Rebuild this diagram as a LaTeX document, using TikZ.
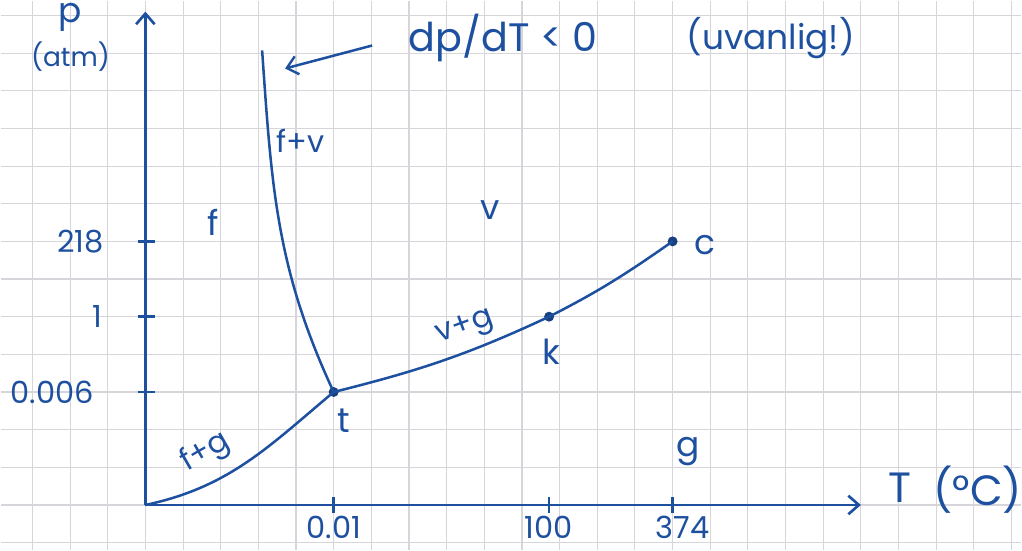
\documentclass[tikz,border=0pt]{standalone}
\usepackage{fontspec}
\setmainfont{Poppins}
\usepackage{tikz}
\usetikzlibrary{arrows.meta, positioning}
\definecolor{blekk}{RGB}{30,80,160}
\definecolor{rute}{RGB}{214,214,218}

\begin{document}
\begin{tikzpicture}[
  font=\fontsize{26}{28}\selectfont,
  axis/.style={draw=blekk, line width=2.2pt,
               -{Straight Barb[length=8pt, width=14pt, line width=2pt]}},
  curve/.style={draw=blekk, line width=1.9pt},
  pil/.style={curve, -{Straight Barb[length=8pt, width=14pt, line width=1.8pt]}},
  lbl/.style={text=blekk, inner sep=0pt},
  mid/.style={lbl, font=\fontsize{23}{25}\selectfont},
  small/.style={lbl, font=\fontsize{20}{22}\selectfont},
  dot/.style={circle, fill=blekk!80!black, inner sep=0pt, minimum size=7.5pt},
  gridline/.style={draw=rute, line width=0.8pt}
]
% rutepapir
\fill[white] (-3.846,-1.194) rectangle (23.263,13.395);
\draw[gridline, step=1] (-3.846,-1.194) grid (23.263,13.395);
\useasboundingbox (-3.846,-1.194) rectangle (23.263,13.395);

% akser
\coordinate (O) at (0,0);
\coordinate (xend) at (19.0,0);
\coordinate (yend) at (0,13.1);
\draw[axis] (O) -- (xend);
\draw[axis] (O) -- (yend);

\node[lbl] (plbl) at (-1.99,12.95) {p};
\node[small, below=0.25cm of plbl] (atm) {(atm)};
\node[lbl, font=\fontsize{32}{34}\selectfont] (Tlbl) at (20.03,0.45) {T};
\node[lbl, font=\fontsize{32}{34}\selectfont] (enhet) at (22.1,0.40) {(°C)};

% merker
\foreach \y/\txt/\lx in {7/218/-1.72, 5/1/-1.27, 3/0.006/-2.47} {
  \draw[curve] (-0.2,\y) -- (0.25,\y);
  \node[mid] at (\lx,\y) {\txt};
}
\foreach \x/\txt/\lx in {5/0.01/5, 10.72/100/10.7, 14/374/14.27} {
  \draw[curve] (\x,-0.22) -- (\x,0.22);
  \node[mid] at (\lx,-0.6) {\txt};
}

% punkter
\node[dot] (t) at (5,3) {};
\node[dot] (k) at (10.72,5) {};
\node[dot] (c) at (14,7) {};
\coordinate (ftop) at (3.10,12.07);

% kurver
\draw[curve] (O) to[out=12, in=-140] (t.center);
\draw[curve] (t.center) to[out=14, in=-155] (k.center);
\draw[curve] (k.center) to[out=27, in=-145] (c.center);
\draw[curve] (ftop) to[out=-86, in=115] (t.center);

% merknad
\node[lbl, font=\fontsize{30}{32}\selectfont] (dpdt) at (9.5,12.39) {dp/dT < 0};
\node[lbl] (uvanlig) at (16.6,12.39) {(uvanlig!)};
\coordinate (pilstart) at (6.02,12.2);
\coordinate (piltupp) at (3.71,11.59);
\draw[pil] (pilstart) -- (piltupp);

% omraader
\node[lbl] (fl) at (1.80,7.51) {f};
\node[lbl] (vl) at (9.15,7.82) {v};
\node[lbl] (gl) at (14.40,1.41) {g};
\node[mid] (fv) at (4.11,9.68) {f+v};
\node[mid, rotate=20] (vg) at (8.5,4.7) {v+g};
\node[mid, rotate=30] (fg) at (1.6,1.4) {f+g};
\node[lbl] (tl) at (5.28,2.25) {t};
\node[lbl] (kl) at (10.77,4.06) {k};
\node[lbl] (cl) at (14.85,6.9) {c};
\end{tikzpicture}
\end{document}
